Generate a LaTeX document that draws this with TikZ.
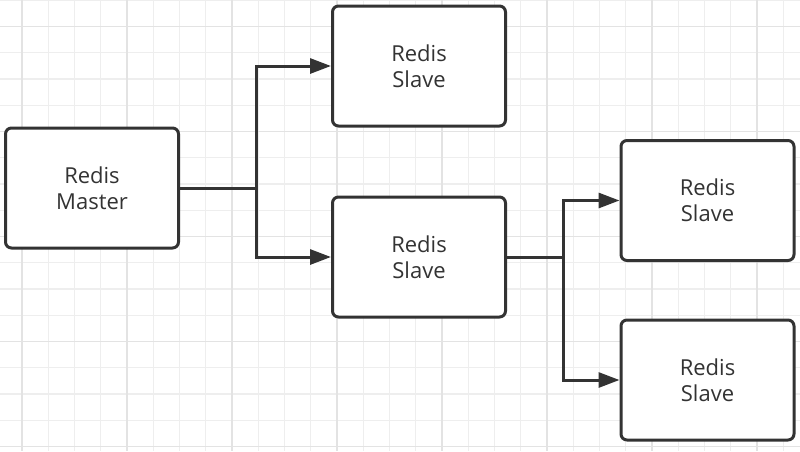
\documentclass[tikz,border=0pt]{standalone}
\usepackage{fontspec}
\setmainfont{Open Sans}
\usetikzlibrary{arrows.meta}
\definecolor{inkgray}{HTML}{333333}
\definecolor{gridlight}{HTML}{EEEEEE}
\definecolor{griddark}{HTML}{E3E3E3}
\begin{document}
\begin{tikzpicture}[x=1pt,y=-1pt]
		\tikzset{
			redisbox/.style = {draw=inkgray, line width=3pt, rounded corners=6pt, fill=white,
				minimum width=173pt, minimum height=120pt, align=center, text=inkgray,
				font=\fontsize{22}{26}\selectfont},
			link/.style = {draw=inkgray, line width=3pt},
			linkarrow/.style = {link, -{Triangle[length=21pt,width=15pt]}}
		}
		\useasboundingbox (0,0) rectangle (800,451);
		\fill[white] (0,0) rectangle (800,451);
		% background grid
		\foreach \i in {0,...,29}
			\draw[gridlight, line width=1.3pt] ({22+26.25*\i},0) -- ({22+26.25*\i},451);
		\foreach \j in {0,...,17}
			\draw[gridlight, line width=1.3pt] (0,{0.3+26.25*\j}) -- (800,{0.3+26.25*\j});
		\foreach \i in {0,4,...,28}
			\draw[griddark, line width=1.3pt] ({22+26.25*\i},0) -- ({22+26.25*\i},451);
		\foreach \j in {1,5,...,17}
			\draw[griddark, line width=1.3pt] (0,{0.3+26.25*\j}) -- (800,{0.3+26.25*\j});
		% boxes
		\node[redisbox] (master) at (92,188) {Redis\\Master};
		\node[redisbox] (slavea) at (419,66) {Redis\\Slave};
		\node[redisbox] (slaveb) at (419,257) {Redis\\Slave};
		\node[redisbox] (slavec) at (707.5,200.5) {Redis\\Slave};
		\node[redisbox] (slaved) at (707.5,380) {Redis\\Slave};
		% connectors
		\coordinate (split1) at (256,188);
		\coordinate (split2) at (563,257);
		\draw[link] (master.east) -- (split1);
		\draw[linkarrow] (split1) |- (slavea.west);
		\draw[linkarrow] (split1) |- (slaveb.west);
		\draw[link] (slaveb.east) -- (split2);
		\draw[linkarrow] (split2) |- (slavec.west);
		\draw[linkarrow] (split2) |- (slaved.west);
\end{tikzpicture}
\end{document}
